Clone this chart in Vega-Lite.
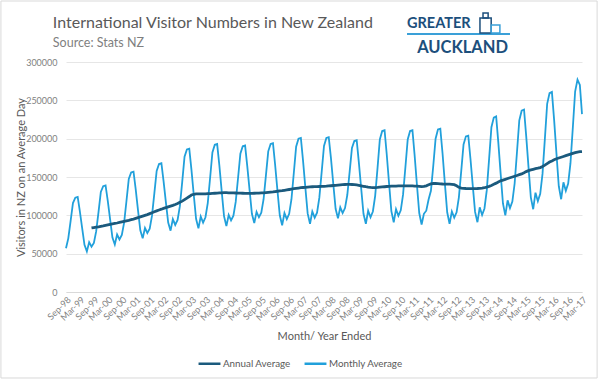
{
"$schema": "https://vega.github.io/schema/vega-lite/v6.json",
"width": 516, "height": 230,
"autosize": {"type": "none"},
"padding": {"left": 66, "top": 62, "right": 18, "bottom": 88},
"background": "white",
"resolve": {"axis": {"x": "independent", "y": "independent"}},
"data": {"format": {"parse": {"d": "date:'%Y-%m'"}}, "values": [
{"d":"1998-09","m":57000},{"d":"1998-10","m":70000},{"d":"1998-11","m":93000},{"d":"1998-12","m":116000},
{"d":"1999-01","m":123000},{"d":"1999-02","m":124000},{"d":"1999-03","m":105500},{"d":"1999-04","m":83000},{"d":"1999-05","m":61500},{"d":"1999-06","m":53000},{"d":"1999-07","m":65000},{"d":"1999-08","m":59000,"a":83500},{"d":"1999-09","m":64000,"a":84000},{"d":"1999-10","m":79000,"a":84500},{"d":"1999-11","m":104500,"a":85000},{"d":"1999-12","m":130500,"a":85700},
{"d":"2000-01","m":138000,"a":86300},{"d":"2000-02","m":139000,"a":87000},{"d":"2000-03","m":119000,"a":87600},{"d":"2000-04","m":94500,"a":88200},{"d":"2000-05","m":71000,"a":88800},{"d":"2000-06","m":62000,"a":89400},{"d":"2000-07","m":75000,"a":90000},{"d":"2000-08","m":68500,"a":90700},{"d":"2000-09","m":74500,"a":91400},{"d":"2000-10","m":90500,"a":92100},{"d":"2000-11","m":119000,"a":92800},{"d":"2000-12","m":147500,"a":93500},
{"d":"2001-01","m":156000,"a":94300},{"d":"2001-02","m":157000,"a":95100},{"d":"2001-03","m":134500,"a":96000},{"d":"2001-04","m":106500,"a":97000},{"d":"2001-05","m":80500,"a":98000},{"d":"2001-06","m":70000,"a":99000},{"d":"2001-07","m":83500,"a":100000},{"d":"2001-08","m":77000,"a":101000},{"d":"2001-09","m":82500,"a":102200},{"d":"2001-10","m":99500,"a":103400},{"d":"2001-11","m":129000,"a":104600},{"d":"2001-12","m":158000,"a":105800},
{"d":"2002-01","m":167000,"a":107000},{"d":"2002-02","m":168000,"a":108000},{"d":"2002-03","m":145000,"a":109000},{"d":"2002-04","m":117000,"a":110000},{"d":"2002-05","m":90500,"a":111000},{"d":"2002-06","m":80000,"a":112000},{"d":"2002-07","m":95000,"a":113000},{"d":"2002-08","m":87500,"a":114200},{"d":"2002-09","m":94000,"a":115500},{"d":"2002-10","m":112000,"a":117000},{"d":"2002-11","m":144000,"a":118500},{"d":"2002-12","m":176500,"a":120500},
{"d":"2003-01","m":186000,"a":122500},{"d":"2003-02","m":187000,"a":124500},{"d":"2003-03","m":160000,"a":126500},{"d":"2003-04","m":126500,"a":127500},{"d":"2003-05","m":95500,"a":128000},{"d":"2003-06","m":83000,"a":128000},{"d":"2003-07","m":98500,"a":128000},{"d":"2003-08","m":90500,"a":128000},{"d":"2003-09","m":97500,"a":128000},{"d":"2003-10","m":116000,"a":128200},{"d":"2003-11","m":149000,"a":128400},{"d":"2003-12","m":182000,"a":128600},
{"d":"2004-01","m":192000,"a":128800},{"d":"2004-02","m":193000,"a":129000},{"d":"2004-03","m":165000,"a":129200},{"d":"2004-04","m":131000,"a":129400},{"d":"2004-05","m":99000,"a":129500},{"d":"2004-06","m":86000,"a":129500},{"d":"2004-07","m":100500,"a":129400},{"d":"2004-08","m":93500,"a":129300},{"d":"2004-09","m":99500,"a":129200},{"d":"2004-10","m":117500,"a":129100},{"d":"2004-11","m":149000,"a":129000},{"d":"2004-12","m":180500,"a":128900},
{"d":"2005-01","m":190000,"a":128800},{"d":"2005-02","m":191000,"a":128700},{"d":"2005-03","m":164500,"a":128600},{"d":"2005-04","m":132500,"a":128600},{"d":"2005-05","m":102000,"a":128700},{"d":"2005-06","m":90000,"a":128800},{"d":"2005-07","m":104500,"a":128900},{"d":"2005-08","m":97500,"a":129000},{"d":"2005-09","m":103500,"a":129200},{"d":"2005-10","m":121000,"a":129400},{"d":"2005-11","m":152500,"a":129700},{"d":"2005-12","m":183500,"a":130000},
{"d":"2006-01","m":193000,"a":130300},{"d":"2006-02","m":194000,"a":130600},{"d":"2006-03","m":166000,"a":131000},{"d":"2006-04","m":132000,"a":131400},{"d":"2006-05","m":100000,"a":131800},{"d":"2006-06","m":87000,"a":132200},{"d":"2006-07","m":103000,"a":132700},{"d":"2006-08","m":95000,"a":133200},{"d":"2006-09","m":102000,"a":133700},{"d":"2006-10","m":121000,"a":134200},{"d":"2006-11","m":155500,"a":134700},{"d":"2006-12","m":189500,"a":135200},
{"d":"2007-01","m":200000,"a":135600},{"d":"2007-02","m":201000,"a":136000},{"d":"2007-03","m":172000,"a":136300},{"d":"2007-04","m":136000,"a":136600},{"d":"2007-05","m":102500,"a":136900},{"d":"2007-06","m":89000,"a":137100},{"d":"2007-07","m":105000,"a":137300},{"d":"2007-08","m":97000,"a":137400},{"d":"2007-09","m":103500,"a":137500},{"d":"2007-10","m":123000,"a":137600},{"d":"2007-11","m":157000,"a":137700},{"d":"2007-12","m":190500,"a":137800},
{"d":"2008-01","m":201000,"a":138000},{"d":"2008-02","m":202000,"a":138300},{"d":"2008-03","m":174500,"a":138600},{"d":"2008-04","m":140500,"a":138900},{"d":"2008-05","m":108500,"a":139200},{"d":"2008-06","m":96000,"a":139500},{"d":"2008-07","m":110500,"a":139800},{"d":"2008-08","m":103000,"a":140000},{"d":"2008-09","m":109500,"a":140200},{"d":"2008-10","m":126500,"a":140300},{"d":"2008-11","m":157000,"a":140300},{"d":"2008-12","m":188000,"a":140200},
{"d":"2009-01","m":197000,"a":140000},{"d":"2009-02","m":198000,"a":139600},{"d":"2009-03","m":169500,"a":139100},{"d":"2009-04","m":135000,"a":138500},{"d":"2009-05","m":102000,"a":137900},{"d":"2009-06","m":89000,"a":137300},{"d":"2009-07","m":106000,"a":136800},{"d":"2009-08","m":97500,"a":136400},{"d":"2009-09","m":105000,"a":136200},{"d":"2009-10","m":125500,"a":136200},{"d":"2009-11","m":162000,"a":136400},{"d":"2009-12","m":199000,"a":136700},
{"d":"2010-01","m":210000,"a":137000},{"d":"2010-02","m":211000,"a":137300},{"d":"2010-03","m":180000,"a":137600},{"d":"2010-04","m":141500,"a":137800},{"d":"2010-05","m":105500,"a":138000},{"d":"2010-06","m":91000,"a":138100},{"d":"2010-07","m":108000,"a":138200},{"d":"2010-08","m":99500,"a":138300},{"d":"2010-09","m":106500,"a":138400},{"d":"2010-10","m":127000,"a":138500},{"d":"2010-11","m":163000,"a":138500},{"d":"2010-12","m":199000,"a":138500},
{"d":"2011-01","m":210000,"a":138400},{"d":"2011-02","m":211000,"a":138300},{"d":"2011-03","m":179000,"a":138200},{"d":"2011-04","m":139500,"a":138000},{"d":"2011-05","m":103000,"a":137800},{"d":"2011-06","m":88000,"a":137500},{"d":"2011-07","m":102000,"a":137800},{"d":"2011-08","m":106000,"a":138500},{"d":"2011-09","m":121000,"a":139800},{"d":"2011-10","m":132000,"a":141000},{"d":"2011-11","m":165000,"a":141500},{"d":"2011-12","m":200000,"a":141500},
{"d":"2012-01","m":212000,"a":141300},{"d":"2012-02","m":213000,"a":141100},{"d":"2012-03","m":181000,"a":140900},{"d":"2012-04","m":141000,"a":140800},{"d":"2012-05","m":104000,"a":140700},{"d":"2012-06","m":89000,"a":140600},{"d":"2012-07","m":105000,"a":140500},{"d":"2012-08","m":97000,"a":140000},{"d":"2012-09","m":104000,"a":138500},{"d":"2012-10","m":123500,"a":136500},{"d":"2012-11","m":158000,"a":135500},{"d":"2012-12","m":192500,"a":135200},
{"d":"2013-01","m":203000,"a":135000},{"d":"2013-02","m":204000,"a":134900},{"d":"2013-03","m":174500,"a":134800},{"d":"2013-04","m":138500,"a":134800},{"d":"2013-05","m":104500,"a":134900},{"d":"2013-06","m":91000,"a":135000},{"d":"2013-07","m":110500,"a":135200},{"d":"2013-08","m":100500,"a":135500},{"d":"2013-09","m":109000,"a":136000},{"d":"2013-10","m":132500,"a":136800},{"d":"2013-11","m":174000,"a":137800},{"d":"2013-12","m":215000,"a":139000},
{"d":"2014-01","m":227500,"a":140500},{"d":"2014-02","m":229000,"a":142000},{"d":"2014-03","m":195500,"a":143500},{"d":"2014-04","m":154000,"a":145000},{"d":"2014-05","m":115500,"a":146000},{"d":"2014-06","m":100000,"a":147000},{"d":"2014-07","m":119500,"a":148000},{"d":"2014-08","m":109500,"a":149000},{"d":"2014-09","m":118000,"a":150000},{"d":"2014-10","m":141500,"a":151000},{"d":"2014-11","m":183000,"a":152000},{"d":"2014-12","m":224000,"a":153000},
{"d":"2015-01","m":236500,"a":154000},{"d":"2015-02","m":238000,"a":155500},{"d":"2015-03","m":204000,"a":157000},{"d":"2015-04","m":162500,"a":158300},{"d":"2015-05","m":123500,"a":159200},{"d":"2015-06","m":108000,"a":160000},{"d":"2015-07","m":129500,"a":160800},{"d":"2015-08","m":118500,"a":161500},{"d":"2015-09","m":128000,"a":162300},{"d":"2015-10","m":154000,"a":163800},{"d":"2015-11","m":200000,"a":165500},{"d":"2015-12","m":245500,"a":167500},
{"d":"2016-01","m":259500,"a":169500},{"d":"2016-02","m":261000,"a":171000},{"d":"2016-03","m":224500,"a":172500},{"d":"2016-04","m":180000,"a":173800},{"d":"2016-05","m":138000,"a":174800},{"d":"2016-06","m":121000,"a":175800},{"d":"2016-07","m":143000,"a":176800},{"d":"2016-08","m":132000,"a":177800},{"d":"2016-09","m":141500,"a":178800},{"d":"2016-10","m":168000,"a":179800},{"d":"2016-11","m":214500,"a":180800},{"d":"2016-12","m":261500,"a":181800},
{"d":"2017-01","m":277000,"a":182500},{"d":"2017-02","m":270000,"a":183000},{"d":"2017-03","m":232000,"a":183200}
]},
"layer": [
  {"mark": {"type": "line", "strokeWidth": 1.8},
   "encoding": {
     "x": {"field": "d", "type": "temporal",
       "scale": {"domain": [{"year":1998,"month":9,"date":1},{"year":2017,"month":3,"date":1}], "nice": false},
       "axis": {"title": "Month/ Year Ended", "format": "%b-%y", "labelAngle": -45, "labelAlign": "right", "labelBaseline": "top", "labelOverlap": false, "labelFlush": false, "grid": false, "ticks": false,
         "values": [{"year":1998,"month":9},{"year":1999,"month":3},{"year":1999,"month":9},{"year":2000,"month":3},{"year":2000,"month":9},{"year":2001,"month":3},{"year":2001,"month":9},{"year":2002,"month":3},{"year":2002,"month":9},{"year":2003,"month":3},{"year":2003,"month":9},{"year":2004,"month":3},{"year":2004,"month":9},{"year":2005,"month":3},{"year":2005,"month":9},{"year":2006,"month":3},{"year":2006,"month":9},{"year":2007,"month":3},{"year":2007,"month":9},{"year":2008,"month":3},{"year":2008,"month":9},{"year":2009,"month":3},{"year":2009,"month":9},{"year":2010,"month":3},{"year":2010,"month":9},{"year":2011,"month":3},{"year":2011,"month":9},{"year":2012,"month":3},{"year":2012,"month":9},{"year":2013,"month":3},{"year":2013,"month":9},{"year":2014,"month":3},{"year":2014,"month":9},{"year":2015,"month":3},{"year":2015,"month":9},{"year":2016,"month":3},{"year":2016,"month":9},{"year":2017,"month":3}]}},
     "y": {"field": "m", "type": "quantitative", "scale": {"domain": [0, 300000], "nice": false},
       "axis": {"title": "Visitors in NZ on an Average Day", "values": [0,50000,100000,150000,200000,250000,300000], "format": "d", "labelOverlap": false}},
     "color": {"datum": "Monthly Average", "type": "nominal",
       "scale": {"domain": ["Annual Average", "Monthly Average"], "range": ["#1b5a7d", "#21a0db"]},
       "legend": {"title": null, "orient": "none", "legendX": 131, "legendY": 289, "direction": "horizontal", "symbolType": "stroke", "symbolStrokeWidth": 2.5, "symbolSize": 480, "labelFont": "Lato", "labelFontSize": 9.8, "labelColor": "#595959", "columnPadding": 8, "labelOffset": 1}}
   }},
  {"mark": {"type": "line", "strokeWidth": 2.8},
   "encoding": {
     "x": {"field": "d", "type": "temporal", "axis": null},
     "y": {"field": "a", "type": "quantitative", "axis": null},
     "color": {"datum": "Annual Average", "type": "nominal"}
   }},
  {"data": {"values": [{}]},
   "mark": {"type": "text", "text": "International Visitor Numbers in New Zealand", "align": "left", "baseline": "alphabetic", "font": "Lato", "fontSize": 16, "color": "#595959"},
   "encoding": {"x": {"datum": {"year":1998,"month":3,"date":13}, "type": "temporal", "axis": null}, "y": {"datum": 344350, "type": "quantitative", "axis": null}}},
  {"data": {"values": [{}]},
   "mark": {"type": "text", "text": "Source: Stats NZ", "align": "left", "baseline": "alphabetic", "font": "Lato", "fontSize": 12.5, "color": "#7f7f7f"},
   "encoding": {"x": {"datum": {"year":1998,"month":3,"date":13}, "type": "temporal", "axis": null}, "y": {"datum": 319570, "type": "quantitative", "axis": null}}},
  {"data": {"values": [{}]},
   "mark": {"type": "text", "text": "GREATER", "align": "left", "baseline": "alphabetic", "font": "Lato", "fontWeight": "bold", "fontSize": 14.5, "color": "#1c4f7c"},
   "encoding": {"x": {"datum": {"year":2010,"month":11,"date":22}, "type": "temporal", "axis": null}, "y": {"datum": 344350, "type": "quantitative", "axis": null}}},
  {"data": {"values": [{}]},
   "mark": {"type": "text", "text": "AUCKLAND", "align": "right", "baseline": "alphabetic", "font": "Lato", "fontWeight": "bold", "fontSize": 16.5, "color": "#1c4f7c"},
   "encoding": {"x": {"datum": {"year":2014,"month":7,"date":7}, "type": "temporal", "axis": null}, "y": {"datum": 311740, "type": "quantitative", "axis": null}}},
  {"data": {"values": [{}]},
   "mark": {"type": "rule", "color": "#3aa0d8", "strokeWidth": 2},
   "encoding": {"x": {"datum": {"year":2010,"month":11,"date":22}, "type": "temporal", "axis": null}, "x2": {"datum": {"year":2014,"month":8,"date":1}}, "y": {"datum": 336500, "type": "quantitative", "axis": null}}},
  {"data": {"values": [{}]},
   "mark": {"type": "rect", "filled": false, "color": "#1c4f7c", "strokeWidth": 1.5},
   "encoding": {"x": {"datum": {"year":2013,"month":7,"date":4}, "type": "temporal", "axis": null}, "x2": {"datum": {"year":2013,"month":11,"date":28}}, "y": {"datum": 357390, "type": "quantitative", "axis": null}, "y2": {"datum": 337800}}},
  {"data": {"values": [{}]},
   "mark": {"type": "rect", "filled": false, "color": "#1c4f7c", "strokeWidth": 1.5},
   "encoding": {"x": {"datum": {"year":2013,"month":8,"date":13}, "type": "temporal", "axis": null}, "x2": {"datum": {"year":2013,"month":10,"date":19}}, "y": {"datum": 363900, "type": "quantitative", "axis": null}, "y2": {"datum": 357390}}},
  {"data": {"values": [{}]},
   "mark": {"type": "rect", "filled": false, "color": "#3aa0d8", "strokeWidth": 1.5},
   "encoding": {"x": {"datum": {"year":2013,"month":11,"date":28}, "type": "temporal", "axis": null}, "x2": {"datum": {"year":2014,"month":3,"date":22}}, "y": {"datum": 348260, "type": "quantitative", "axis": null}, "y2": {"datum": 337800}}},
  {"data": {"values": [{}]},
   "mark": {"type": "rect", "filled": false, "color": "#d9d9d9", "strokeWidth": 1},
   "encoding": {"x": {"datum": {"year":1996,"month":5,"date":2}, "type": "temporal", "axis": null}, "x2": {"datum": {"year":2017,"month":9,"date":15}}, "y": {"datum": 379560, "type": "quantitative", "axis": null}, "y2": {"datum": -112170}}}
],
"config": {
  "view": {"stroke": null},
  "axisX": {"labelAngle": -45, "labelAlign": "right", "labelBaseline": "top", "labelOverlap": false, "labelFlush": false, "grid": false, "ticks": false, "domain": true, "domainColor": "#d9d9d9", "labelFont": "Lato", "labelFontSize": 9, "labelColor": "#7f7f7f", "labelPadding": 3, "titleFont": "Lato", "titleFontSize": 11, "titleFontWeight": "normal", "titleColor": "#595959", "titlePadding": 8},
  "axisY": {"domain": false, "ticks": false, "labelOverlap": false, "labelPadding": 9, "labelFont": "Lato", "labelFontSize": 9, "labelColor": "#7f7f7f", "gridColor": "#e6e6e6", "titleFont": "Lato", "titleFontSize": 11, "titleFontWeight": "normal", "titleColor": "#595959", "titlePadding": -1}
}
}
